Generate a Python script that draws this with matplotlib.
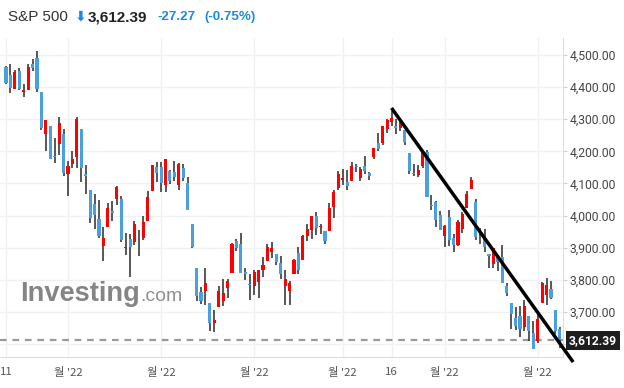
import matplotlib

matplotlib.use("Agg")
import matplotlib.pyplot as plt
import matplotlib.transforms as mtransforms
import numpy as np

# S&P 500 daily candles, 11 Apr 2022 .. 10 Oct 2022 (one entry per trading day)
opens = [
    4462.6, 4437.6, 4394.3, 4449.1, 4385.6, 4390.6, 4472.3, 4489.2, 4385.8, 4255.3,
    4278.1, 4186.5, 4222.6, 4253.8,
    4130.6, 4159.8, 4181.2, 4270.4, 4128.2, 4081.3, 4035.2, 3990.1, 3904.0, 3963.9,
    4013.0, 4052.0, 4052.0, 3899.0, 3927.8, 3919.4, 3942.9, 3929.6, 3984.6, 4077.4,
    4151.1,
    4149.8, 4095.4, 4137.6, 4134.7, 4096.5, 4147.1, 4101.7, 3974.4, 3838.2, 3763.5,
    3764.1, 3728.2, 3665.9, 3715.3, 3733.9, 3774.7, 3821.8, 3920.8, 3913.0, 3825.1,
    3786.0,
    3781.0, 3792.6, 3832.0, 3858.9, 3888.3, 3880.9, 3852.0, 3779.7, 3764.0, 3818.0,
    3883.8, 3860.7, 3935.3, 3955.5, 3998.4, 3965.7, 3953.2, 3951.4, 4026.1, 4087.3,
    4112.4, 4104.2, 4108.0, 4154.9, 4115.9, 4155.9, 4133.1, 4181.0, 4227.4, 4225.0,
    4269.4, 4290.5, 4280.4, 4273.1, 4266.3, 4195.1, 4133.1, 4126.6, 4153.3, 4198.7,
    4034.6, 4041.3, 4000.7,
    3936.7, 3994.7, 3930.9, 3909.4, 3959.9, 4022.9, 4083.7, 4041.3, 3940.7, 3932.4,
    3881.0, 3849.9, 3875.2, 3871.4, 3782.4, 3727.1, 3682.7, 3686.4, 3651.9, 3687.0,
    3633.5,
    3609.8, 3726.5, 3753.3, 3772.0, 3706.7, 3647.5,
]
highs = [
    4464.4, 4471.0, 4453.9, 4460.5, 4410.3, 4471.0, 4488.3, 4512.9, 4385.8, 4299.0,
    4278.1, 4240.7, 4308.5, 4269.7,
    4169.8, 4200.1, 4307.7, 4270.4, 4157.7, 4081.3, 4068.8, 4049.1, 3964.8, 4038.9,
    4046.5, 4090.7, 4062.5, 3946.0, 3943.4, 3981.9, 3955.7, 3999.3, 4075.1, 4158.5,
    4168.3,
    4166.5, 4177.5, 4142.7, 4168.8, 4164.9, 4160.1, 4119.1, 3974.4, 3838.2, 3778.2,
    3837.6, 3728.2, 3707.7, 3779.7, 3801.8, 3802.6, 3913.7, 3927.7, 3945.9, 3836.5,
    3819.0,
    3829.8, 3832.2, 3870.9, 3910.6, 3918.5, 3880.9, 3873.4, 3829.4, 3796.4, 3863.6,
    3902.4, 3939.8, 3974.1, 3999.3, 4012.4, 3975.3, 3953.2, 4039.6, 4079.0, 4140.2,
    4145.0, 4140.5, 4167.7, 4161.3, 4151.6, 4186.6, 4137.3, 4211.0, 4257.9, 4280.5,
    4301.8, 4325.3, 4302.2, 4292.5, 4266.3, 4195.1, 4159.8, 4156.6, 4200.5, 4203.0,
    4063.0, 4045.0, 4015.4,
    3970.2, 4018.4, 3942.6, 3987.9, 4010.5, 4076.8, 4119.3, 4050.8, 3961.9, 3959.1,
    3881.0, 3900.5, 3876.0, 3907.1, 3790.2, 3727.1, 3715.7, 3717.5, 3736.7, 3687.0,
    3671.4,
    3698.4, 3791.9, 3806.9, 3797.9, 3706.7, 3652.2,
]
lows = [
    4408.4, 4381.3, 4392.7, 4390.8, 4370.3, 4390.6, 4448.8, 4384.5, 4267.6, 4200.8,
    4175.0, 4162.9, 4188.6, 4124.3,
    4062.5, 4147.1, 4148.9, 4106.0, 4067.9, 3975.5, 3958.2, 3928.8, 3858.9, 3963.9,
    3984.0, 4033.9, 3916.6, 3876.6, 3810.3, 3909.0, 3875.1, 3925.0, 3984.6, 4077.4,
    4104.9,
    4073.9, 4074.4, 4098.7, 4109.2, 4080.2, 4107.2, 4017.2, 3900.2, 3734.3, 3724.3,
    3722.3, 3639.8, 3636.9, 3715.3, 3717.7, 3743.5, 3821.8, 3889.7, 3820.1, 3799.0,
    3738.7,
    3752.1, 3742.1, 3809.4, 3858.9, 3869.3, 3847.2, 3802.4, 3721.6, 3723.3, 3817.2,
    3818.6, 3860.7, 3922.0, 3927.6, 3938.9, 3943.5, 3910.7, 3951.4, 3993.0, 4079.2,
    4096.0, 4079.8, 4108.0, 4135.4, 4107.3, 4129.0, 4112.1, 4177.3, 4201.4, 4219.8,
    4256.9, 4277.8, 4253.1, 4262.0, 4218.7, 4129.9, 4124.0, 4120.0, 4147.6, 4057.7,
    4017.4, 3965.2, 3954.5,
    3903.7, 3906.2, 3886.8, 3906.0, 3944.8, 4022.9, 4083.7, 3924.8, 3912.4, 3888.3,
    3837.1, 3838.5, 3827.5, 3789.5, 3749.5, 3647.5, 3644.8, 3623.3, 3640.6, 3610.4,
    3584.1,
    3604.9, 3726.5, 3722.7, 3739.2, 3620.7, 3588.1,
]
closes = [
    4412.5, 4397.5, 4446.6, 4392.6, 4391.7, 4462.2, 4459.5, 4393.7, 4271.8, 4296.1,
    4175.2, 4184.0, 4287.5, 4131.9,
    4155.4, 4175.5, 4300.2, 4146.9, 4123.3, 3991.2, 4001.1, 3935.2, 3930.1, 4023.9,
    4008.0, 4088.9, 3923.7, 3900.8, 3901.4, 3973.8, 3941.5, 3978.7, 4057.8, 4158.2,
    4132.2,
    4101.2, 4176.8, 4108.5, 4121.4, 4160.7, 4115.8, 4017.8, 3900.9, 3749.6, 3735.5,
    3790.0, 3666.8, 3674.8, 3764.8, 3759.9, 3795.7, 3911.7, 3900.1, 3821.6, 3818.8,
    3785.4,
    3825.3, 3831.4, 3845.1, 3902.6, 3899.4, 3854.4, 3818.8, 3801.8, 3790.4, 3863.2,
    3830.9, 3936.7, 3959.9, 3999.0, 3961.6, 3966.8, 3921.1, 4023.6, 4072.4, 4130.3,
    4118.6, 4091.2, 4155.2, 4151.9, 4145.2, 4140.1, 4122.5, 4210.2, 4207.3, 4280.2,
    4297.1, 4305.2, 4274.0, 4283.7, 4228.5, 4138.0, 4128.7, 4140.8, 4199.1, 4057.7,
    4030.6, 3986.2, 3955.0,
    3966.9, 3924.3, 3908.2, 3979.9, 4006.2, 4067.4, 4110.4, 3932.7, 3946.0, 3901.4,
    3873.3, 3899.9, 3855.9, 3789.9, 3758.0, 3693.2, 3655.0, 3647.3, 3719.0, 3640.5,
    3585.6,
    3678.4, 3790.9, 3783.3, 3744.5, 3639.7, 3612.4,
]

# x-axis ticks: index of the trading day and its label (month number missing in the source)
tick_days = [0, 14, 35, 56, 76, 87, 99, 120]
tick_labels = ["11", "월 '22", "월 '22", "월 '22", "월 '22", "16", "월 '22", "월 '22"]
price_ticks = [3600, 3700, 3800, 3900, 4000, 4100, 4200, 4300, 4400, 4500]

last_price = 3612.39
change = -27.27
change_pct = -0.75

# hand-drawn trend line: (trading-day index, price) at both ends
trend_days = [87, 128]
trend_prices = [4335, 3544]

UP = "#ff0000"
DOWN = "#4a9fdf"
WICK = "#2a2a2a"
HEAD_BLUE = "#1c88e3"

W, H = 624, 388
fig = plt.figure(figsize=(W / 100, H / 100), dpi=100)
ax = fig.add_axes([0.0, 1 - 357 / H, 563 / W, (357 - 38) / H])

o = np.array(opens)
h = np.array(highs)
l = np.array(lows)
c = np.array(closes)
x = np.arange(len(c))
up = c > o
colors = np.where(up, UP, DOWN)

ax.vlines(x, l, h, color=WICK, linewidth=1.1, zorder=3)
body_low = np.minimum(o, c)
body_h = np.maximum(np.abs(c - o), 2.5)
ax.bar(x, body_h, bottom=body_low, width=0.7, color=colors, linewidth=0, zorder=4)

ax.axhline(last_price, color="#9a9a9a", linewidth=1.6, linestyle=(0, (3, 2.6)), zorder=2)

ax.plot(trend_days, trend_prices, color="black", linewidth=2.5, clip_on=False,
        solid_capstyle="butt", zorder=6)

ax.set_xlim(-1.35, 125.7)
ax.set_ylim(3559.9, 4552.9)

ax.set_yticks(price_ticks)
ax.set_yticklabels(["" if p == 3600 else f"{p:,.2f}" for p in price_ticks])
ax.yaxis.tick_right()
ax.tick_params(axis="y", length=3, width=0.8, color="#d0d0d8", pad=2,
               labelsize=8.7, labelcolor="#444444")
for lbl in ax.get_yticklabels():
    lbl.set_family(["Roboto", "DejaVu Sans"])

ax.set_xticks(tick_days)
ax.set_xticklabels(tick_labels)
ax.tick_params(axis="x", length=0, pad=7, labelsize=8.2, labelcolor="#555555")
for lbl in ax.get_xticklabels():
    lbl.set_family(["Noto Sans CJK KR", "DejaVu Sans"])

ax.grid(True, color="#f1f1f3", linewidth=1.0, zorder=0)
ax.set_axisbelow(True)
for side in ["top", "left"]:
    ax.spines[side].set_visible(False)
ax.spines["right"].set_color("#dcdce4")
ax.spines["bottom"].set_color("#dcdce4")

# current price tag on the axis
ax.annotate(
    f"{last_price:,.2f}",
    xy=(1.0, last_price),
    xycoords=mtransforms.blended_transform_factory(ax.transAxes, ax.transData),
    xytext=(4, 0),
    textcoords="offset points",
    ha="left",
    va="center",
    color="white",
    fontsize=8.7,
    fontweight="bold",
    family=["Roboto", "DejaVu Sans"],
    bbox={"boxstyle": "square,pad=0.25", "facecolor": "#1e1e1e", "edgecolor": "none"},
    annotation_clip=False,
    zorder=7,
)

# watermark
ax.text(20 / W, 1 - 301 / H, "Investing", transform=fig.transFigure, ha="left",
        va="baseline", fontsize=19.6, fontweight="bold", color="#858585",
        family="Liberation Sans", zorder=1)
ax.text(140 / W, 1 - 301 / H, ".com", transform=fig.transFigure, ha="left",
        va="baseline", fontsize=14, color="#8f8f8f", family="Liberation Sans", zorder=1)

# header
ty = 1 - 17 / H
fig.text(8 / W, ty, "S&P 500", ha="left", va="center", fontsize=11, color="#333333",
         family="Liberation Sans")
fig.text(75 / W, ty, "⬇", ha="left", va="center", fontsize=10, color=HEAD_BLUE,
         fontweight="bold", family="DejaVu Sans")
fig.text(88 / W, ty, f"{last_price:,.2f}", ha="left", va="center", fontsize=11,
         fontweight="bold", color="#222222", family="Liberation Sans")
fig.text(158 / W, ty, f"{change:.2f}", ha="left", va="center", fontsize=9.6,
         fontweight="bold", color=HEAD_BLUE, family="Liberation Sans")
fig.text(204 / W, ty, f"({change_pct:.2f}%)", ha="left", va="center", fontsize=9.6,
         fontweight="bold", color=HEAD_BLUE, family="Liberation Sans")

fig.savefig("out.png", dpi=100)
